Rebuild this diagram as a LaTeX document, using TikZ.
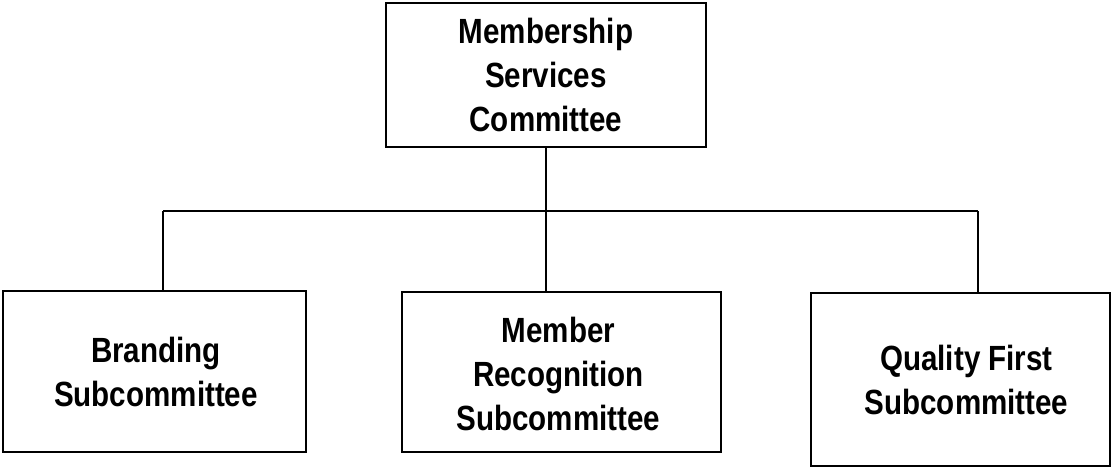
\documentclass[tikz,border=0pt]{standalone}
\usepackage{fontspec}
\setmainfont{Liberation Sans}[FakeStretch=0.845]
\begin{document}
\begin{tikzpicture}[x=1pt,y=-1pt,
  box/.style={draw=black, line width=2.2pt, inner sep=0pt, align=center,
    font=\fontsize{35}{44}\selectfont\bfseries},
  txt/.style={inner sep=0pt, align=center, font=\fontsize{35}{44}\selectfont\bfseries},
  conn/.style={draw=black, line width=2pt}]
\useasboundingbox (0,0) rectangle (1111,468);
\node[box, minimum width=320, minimum height=144] (top) at (546,75) {Membership\\Services\\Committee};
\node[box, minimum width=303, minimum height=161] (left) at (154.5,371.5) {};
\node[txt] (leftt) at ([xshift=1.5pt]left.center) {Branding\\Subcommittee};
\node[box, minimum width=319, minimum height=160] (mid) at (561.5,372) {};
\node[txt] (midt) at ([xshift=-3pt,yshift=-2pt]mid.center) {Member\\Recognition\\Subcommittee};
\node[box, minimum width=299, minimum height=173] (right) at (960.5,379.5) {};
\node[txt] (rightt) at ([xshift=6pt]right.center) {Quality First\\Subcommittee};
\coordinate (j) at (546,211);
\coordinate (hl) at (163,211);
\coordinate (hr) at (978,211);
\draw[conn] (top.south) -- (j);
\draw[conn] (hl) -- (hr);
\draw[conn] (hl) -- (hl |- left.north);
\draw[conn] (j) -- (j |- mid.north);
\draw[conn] (hr) -- (hr |- right.north);
\end{tikzpicture}
\end{document}
